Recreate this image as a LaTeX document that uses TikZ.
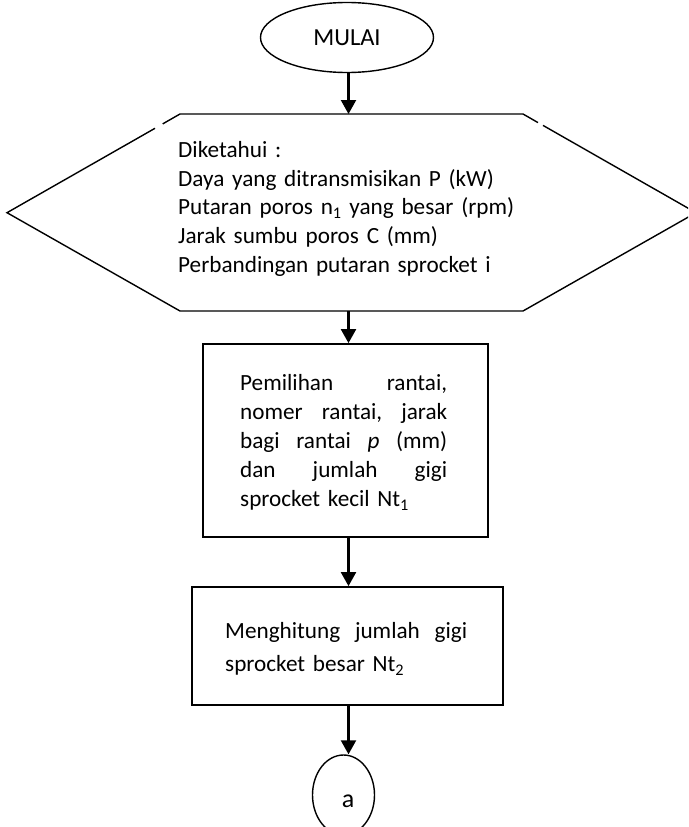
\documentclass[tikz,border=0pt]{standalone}
\usepackage{fontspec}
\setmainfont{Carlito}
\usetikzlibrary{shapes.geometric,arrows.meta}

% a justified line: the words are spread over the given width
\newcommand{\jline}[2]{\leavevmode\hbox to #1{#2}}

\tikzset{
  flow/.style={-{Triangle[width=15pt,length=14pt]}, line width=2.2pt},
  outline/.style={draw, line width=1.4pt},
  procbox/.style={draw, line width=1.8pt, rectangle, inner sep=0pt},
  bodytext/.style={inner sep=0pt, anchor=base west, align=left},
}

\begin{document}
\begin{tikzpicture}[x=1pt, y=-1pt, font=\fontsize{23.2}{28.7}\selectfont]
\useasboundingbox (0,0) rectangle (688,827);
\clip (0,0) rectangle (688,827);

% start terminal
\node[outline, ellipse, inner sep=0pt, minimum width=173pt, minimum height=70pt,
      font=\fontsize{24.5}{28}\selectfont]
  (start) at (347,37.5) {MULAI};

% input hexagon (drawn as a path, open at two small breaks)
\coordinate (hL)  at (7,212.7);
\coordinate (hTL) at (180,114);
\coordinate (hTR) at (523,114);
\coordinate (hR)  at (696,212.7);
\coordinate (hBR) at (523,311);
\coordinate (hBL) at (180,311);
\coordinate (gapLa) at (155,128.3);
\coordinate (gapLb) at (162.7,123.9);
\coordinate (gapRa) at (538,122.6);
\coordinate (gapRb) at (543,125.4);
\draw[outline] (gapLb) -- (hTL) -- (hTR) -- (gapRa);
\draw[outline] (gapRb) -- (hR) -- (hBR) -- (hBL) -- (hL) -- (gapLa);
\coordinate (hexN) at (348.5,114);
\coordinate (hexS) at (348.5,311);

\node[bodytext, text width=360pt] (given) at (178,157.5)
  {Diketahui :\\
   Daya yang ditransmisikan P (kW)\\
   Putaran poros n\textsubscript{1} yang besar (rpm)\\
   Jarak sumbu poros C (mm)\\
   Perbandingan putaran sprocket i};

% chain selection
\node[procbox, minimum width=285pt, minimum height=193pt] (chain) at (345.5,440.5) {};
\node[bodytext, text width=207pt, font=\fontsize{23.2}{29.2}\selectfont] (chaintext) at (240,390)
  {\jline{207pt}{Pemilihan\hfill rantai,}\\
   \jline{207pt}{nomer\hfill rantai,\hfill jarak}\\
   \jline{207pt}{bagi\hfill rantai\hfill \textit{p}\hfill (mm)}\\
   \jline{207pt}{dan\hfill jumlah\hfill gigi}\\
   sprocket kecil Nt\textsubscript{1}};

% large sprocket teeth
\node[procbox, minimum width=311pt, minimum height=118pt] (teeth) at (347.5,646) {};
\node[bodytext, text width=242pt, font=\fontsize{23.2}{33.3}\selectfont] (teethtext) at (225,638.3)
  {\jline{242pt}{Menghitung\hfill jumlah\hfill gigi}\\
   sprocket besar Nt\textsubscript{2}};

% off-page connector
\node[outline, ellipse, inner sep=0pt, minimum width=62pt, minimum height=80pt]
  (conn) at (343.5,795) {};
\node[inner sep=0pt, font=\fontsize{26}{28}\selectfont] (connlabel) at (348,801) {a};

% connectors
\draw[flow] (start.south -| hexN) -- (hexN);
\draw[flow] (hexS) -- (chain.north -| hexS);
\draw[flow] (chain.south -| hexS) -- (teeth.north -| hexS);
\draw[flow] (teeth.south -| hexS) -- (conn.north -| hexS);
\end{tikzpicture}
\end{document}
